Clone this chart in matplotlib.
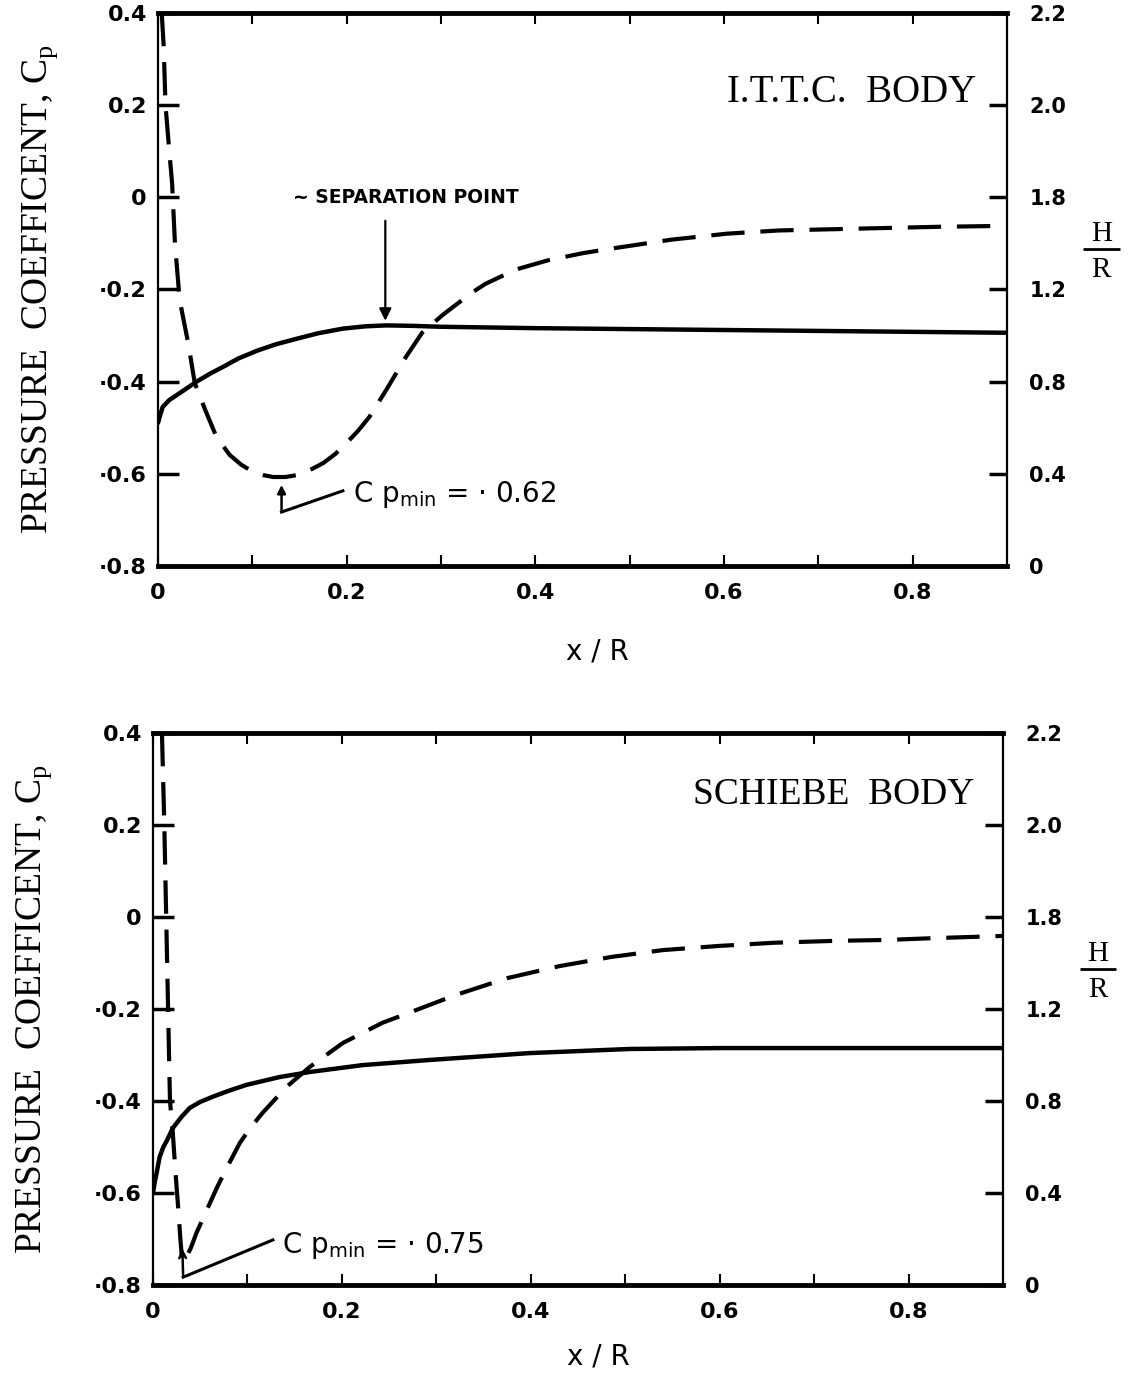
import numpy as np
import matplotlib
matplotlib.use('Agg')
import matplotlib.pyplot as plt

# ---- data (x/R, values in Cp axis units) ----
cp_ticks = [0.4, 0.2, 0.0, -0.2, -0.4, -0.6, -0.8]
cp_labels = ['0.4', '0.2', '0', '·0.2', '·0.4', '·0.6', '·0.8']
hr_labels = ['2.2', '2.0', '1.8', '1.2', '0.8', '0.4', '0']
x_ticks = [0, 0.2, 0.4, 0.6, 0.8]
x_labels = ['0', '0.2', '0.4', '0.6', '0.8']

ittc_solid_x = [0, 0.002, 0.005, 0.012, 0.023, 0.041, 0.055, 0.069, 0.085, 0.105, 0.125,
                0.147, 0.17, 0.196, 0.22, 0.242, 0.27, 0.3, 0.4, 0.5, 0.6, 0.7, 0.8, 0.9]
ittc_solid_y = [-0.49, -0.475, -0.455, -0.44, -0.425, -0.40, -0.383, -0.368, -0.35, -0.333, -0.319,
                -0.307, -0.295, -0.285, -0.28, -0.278, -0.279, -0.281, -0.284, -0.286, -0.288,
                -0.290, -0.292, -0.294]

ittc_dash_x = [0.004, 0.006, 0.008, 0.012, 0.015, 0.018, 0.023, 0.032, 0.039, 0.050, 0.062,
               0.076, 0.088, 0.101, 0.112, 0.122, 0.135, 0.147, 0.160, 0.175, 0.188, 0.200,
               0.212, 0.224, 0.242, 0.263, 0.280, 0.302, 0.332, 0.347, 0.379, 0.413, 0.451,
               0.485, 0.544, 0.603, 0.658, 0.722, 0.764, 0.828, 0.9]
ittc_dash_y = [0.40, 0.33, 0.20, 0.10, 0.03, -0.10, -0.223, -0.316, -0.403, -0.461, -0.520,
               -0.559, -0.580, -0.596, -0.603, -0.607, -0.607, -0.603, -0.593, -0.577, -0.557,
               -0.533, -0.507, -0.477, -0.418, -0.346, -0.294, -0.255, -0.208, -0.188, -0.157,
               -0.137, -0.121, -0.110, -0.092, -0.079, -0.072, -0.069, -0.067, -0.064, -0.062]

schiebe_solid_x = [0, 0.002, 0.004, 0.007, 0.011, 0.015, 0.021, 0.030, 0.039, 0.050, 0.063,
                   0.080, 0.099, 0.134, 0.166, 0.222, 0.292, 0.398, 0.504, 0.6, 0.75, 0.9]
schiebe_solid_y = [-0.60, -0.575, -0.555, -0.522, -0.50, -0.485, -0.459, -0.435, -0.415, -0.402,
                   -0.391, -0.378, -0.365, -0.348, -0.337, -0.322, -0.311, -0.296, -0.287,
                   -0.285, -0.285, -0.285]

schiebe_dash_x = [0.0095, 0.012, 0.014, 0.016, 0.018, 0.021, 0.024, 0.027, 0.029, 0.031, 0.034,
                  0.040, 0.046, 0.057, 0.068, 0.080, 0.092, 0.104, 0.116, 0.141, 0.166, 0.201,
                  0.243, 0.265, 0.320, 0.375, 0.430, 0.485, 0.540, 0.599, 0.658, 0.721, 0.776,
                  0.827, 0.873, 0.903]
schiebe_dash_y = [0.40, 0.20, 0.0, -0.20, -0.40, -0.47, -0.56, -0.64, -0.70, -0.75, -0.745,
                  -0.72, -0.687, -0.637, -0.587, -0.538, -0.491, -0.456, -0.426, -0.370, -0.326,
                  -0.274, -0.230, -0.213, -0.170, -0.133, -0.107, -0.087, -0.072, -0.063,
                  -0.056, -0.052, -0.050, -0.046, -0.043, -0.041]

SERIF = 'Liberation Serif'
SANS = 'DejaVu Sans'


def setup_axes(ax, ylab_x):
    ax.set_xlim(0, 0.9)
    ax.set_ylim(-0.8, 0.4)
    ax.set_xticks(x_ticks)
    ax.set_xticklabels(x_labels, fontsize=16, fontweight='bold', family=SANS)
    ax.set_xticks([0.1, 0.3, 0.5, 0.7], minor=True)
    ax.tick_params(axis='x', which='both', direction='in', length=8, width=1.5,
                   top=True, pad=12)
    ax.set_yticks(cp_ticks)
    ax.set_yticklabels(cp_labels, fontsize=16, fontweight='bold', family=SANS)
    ax.tick_params(axis='y', direction='in', length=15, width=2.5, pad=8)
    for s in ['top', 'bottom']:
        ax.spines[s].set_linewidth(3.5)
    for s in ['left', 'right']:
        ax.spines[s].set_linewidth(1.6)
    ax.set_ylabel(r'PRESSURE  COEFFICENT, C$_\mathregular{p}$', family=SERIF, fontsize=27)
    ax.yaxis.set_label_coords(ylab_x, 0.5)
    ax.set_xlabel('x / R', family=SANS, fontsize=20)

    ax2 = ax.twinx()
    ax2.set_ylim(-0.8, 0.4)
    ax2.set_yticks(cp_ticks)
    ax2.set_yticklabels(hr_labels, fontsize=15, fontweight='bold', family=SANS)
    ax2.tick_params(axis='y', direction='in', length=13, width=2.5, pad=16)
    for s in ax2.spines.values():
        s.set_visible(False)

    # H/R fraction label on the right
    ax.text(1.111, 0.600, 'H', transform=ax.transAxes, family=SERIF, fontsize=21,
            ha='center', va='center')
    ax.plot([1.090, 1.133], [0.573, 0.573], transform=ax.transAxes, color='k',
            lw=2, clip_on=False, solid_capstyle='butt')
    ax.text(1.111, 0.535, 'R', transform=ax.transAxes, family=SERIF, fontsize=21,
            ha='center', va='center')


fig = plt.figure(figsize=(11.34, 13.78), dpi=100)

# ---------------- top panel : I.T.T.C. body ----------------
ax = fig.add_axes([0.1393, 0.5893, 0.7487, 0.4013])
ax.plot(ittc_solid_x, ittc_solid_y, color='k', lw=3.2, solid_capstyle='round')
ax.plot(ittc_dash_x, ittc_dash_y, color='k', lw=3, dashes=(8, 3.8))
setup_axes(ax, -0.115)
ax.xaxis.set_label_coords(0.517, -0.13)

ax.text(0.867, 0.207, 'I.T.T.C.  BODY', family=SERIF, fontsize=28, ha='right', va='baseline')
ax.text(0.143, 0.0, '~ SEPARATION POINT', family=SANS, fontsize=13.5, fontweight='bold',
        ha='left', va='center')
ax.annotate('', xy=(0.241, -0.274), xytext=(0.241, -0.045),
            arrowprops=dict(arrowstyle='-|>', color='k', lw=1.6, mutation_scale=18))
ax.text(0.207, -0.661, r'C p$_\mathregular{min}$ = · 0.62', family=SANS, fontsize=20,
        ha='left', va='baseline')
ax.plot([0.196, 0.131], [-0.637, -0.683], color='k', lw=2.2)
ax.annotate('', xy=(0.131, -0.618), xytext=(0.131, -0.685),
            arrowprops=dict(arrowstyle='-|>', color='k', lw=1.8, mutation_scale=12))

# ---------------- bottom panel : Schiebe body ----------------
ax = fig.add_axes([0.1349, 0.0675, 0.7496, 0.4006])
ax.plot(schiebe_solid_x, schiebe_solid_y, color='k', lw=3.2, solid_capstyle='round')
ax.plot(schiebe_dash_x, schiebe_dash_y, color='k', lw=3, dashes=(8, 3.8))
setup_axes(ax, -0.117)
ax.xaxis.set_label_coords(0.524, -0.105)

ax.text(0.870, 0.246, 'SCHIEBE  BODY', family=SERIF, fontsize=27, ha='right', va='baseline')
ax.text(0.137, -0.730, r'C p$_\mathregular{min}$ = · 0.75', family=SANS, fontsize=20,
        ha='left', va='baseline')
ax.plot([0.127, 0.032], [-0.702, -0.783], color='k', lw=2.2)
ax.annotate('', xy=(0.031, -0.715), xytext=(0.032, -0.785),
            arrowprops=dict(arrowstyle='->', color='k', lw=1.8, mutation_scale=12))

fig.savefig('out.png', dpi=100, facecolor='white')
